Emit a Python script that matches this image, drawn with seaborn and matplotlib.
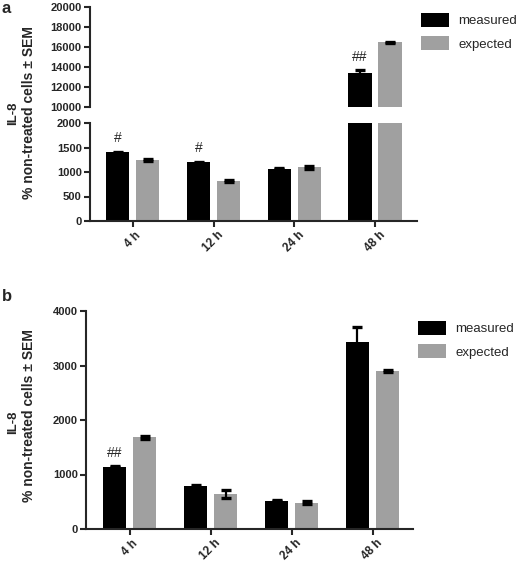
import matplotlib
matplotlib.use("Agg")
import matplotlib.pyplot as plt
import numpy as np
import pandas as pd
import seaborn as sns
from matplotlib.patches import Patch

# ---------------- data ----------------
times = ["4 h", "12 h", "24 h", "48 h"]
series = ["measured", "expected"]

a_measured = [1400, 1200, 1070, 13350]
a_measured_sem = [10, 10, 10, 300]
a_expected = [1240, 820, 1100, 16450]
a_expected_sem = [25, 25, 30, 80]
a_marks = ["#", "#", "", "##"]          # significance marks over "measured"

b_measured = [1140, 790, 520, 3430]
b_measured_sem = [10, 15, 10, 270]
b_expected = [1680, 640, 480, 2900]
b_expected_sem = [20, 70, 25, 15]
b_marks = ["##", "", "", ""]

ylabel_top = "IL-8"
ylabel_bottom = "% non-treated cells \u00b1 SEM"

colors = {"measured": "#000000", "expected": "#a0a0a0"}

# ---------------- style ----------------
sns.set_theme(style="ticks")
plt.rcParams["font.family"] = ["Liberation Sans", "DejaVu Sans"]
plt.rcParams["axes.linewidth"] = 1.5

W, H = 517, 561
fig = plt.figure(figsize=(W / 100, H / 100), dpi=100)


def fax(left, top, right, bottom):
    """axes from pixel box"""
    return fig.add_axes([left / W, 1 - bottom / H, (right - left) / W, (bottom - top) / H])


def make_df(m, e):
    return pd.DataFrame({
        "time": times * 2,
        "series": ["measured"] * len(times) + ["expected"] * len(times),
        "value": list(m) + list(e),
    })


def draw(ax, df, sems, marks, ylim, yticks, xlim):
    sns.barplot(data=df, x="time", y="value", hue="series", hue_order=series,
                palette=colors, width=0.744, gap=0.23, errorbar=None,
                saturation=1, linewidth=0, legend=False, ax=ax)
    for cont, sem in zip(ax.containers, sems):
        xs = [b.get_x() + b.get_width() / 2 for b in cont]
        hs = [b.get_height() for b in cont]
        ax.errorbar(xs, hs, yerr=sem, fmt="none", ecolor="black",
                    elinewidth=1.6, capsize=3.8, capthick=2.4, zorder=5)
    # marks above measured bars
    cont = ax.containers[0]
    for b, s, mk in zip(cont, sems[0], marks):
        top = b.get_height() + s
        if mk and ylim[0] <= top <= ylim[1]:
            ax.annotate(mk, xy=(b.get_x() + b.get_width() / 2, top),
                        xytext=(0, 7), textcoords="offset points",
                        ha="center", va="baseline", fontsize=10, zorder=6)
    ax.set_ylim(*ylim)
    ax.set_yticks(yticks)
    ax.set_xlim(*xlim)
    ax.set_xlabel("")
    ax.set_ylabel("")
    sns.despine(ax=ax)
    ax.tick_params(axis="both", width=1.5, length=4, labelsize=8, pad=2)
    ax.tick_params(axis="x", labelsize=8.5)
    for lab in ax.get_yticklabels() + ax.get_xticklabels():
        lab.set_fontweight("bold")
    for lab in ax.get_xticklabels():
        lab.set_rotation(45)
        lab.set_ha("center")


# ---------------- panel a (broken axis) ----------------
df_a = make_df(a_measured, a_expected)
sems_a = [a_measured_sem, a_expected_sem]
xlim_a = (-0.53, 3.52)

ax_a_top = fax(90, 7, 417, 107)
draw(ax_a_top, df_a, sems_a, a_marks, (10000, 20000),
     np.arange(10000, 20001, 2000), xlim_a)
ax_a_top.spines["bottom"].set_visible(False)
ax_a_top.tick_params(axis="x", bottom=False, labelbottom=False)

ax_a_bot = fax(90, 123, 417, 221)
draw(ax_a_bot, df_a, sems_a, a_marks, (0, 2000),
     np.arange(0, 2001, 500), xlim_a)

# ---------------- panel b ----------------
df_b = make_df(b_measured, b_expected)
sems_b = [b_measured_sem, b_expected_sem]
ax_b = fax(86, 311, 413, 529)
draw(ax_b, df_b, sems_b, b_marks, (0, 4000),
     np.arange(0, 4001, 1000), (-0.54, 3.5))

# ---------------- y labels, panel letters, legends ----------------
for yc, yc2 in ((113, 113), (422, 416)):
    fig.text(13 / W, 1 - yc / H, ylabel_top, rotation=90, ha="center",
             va="center", fontsize=9.5, fontweight="bold")
    fig.text(29 / W, 1 - yc2 / H, ylabel_bottom, rotation=90, ha="center",
             va="center", fontsize=10, fontweight="bold")

fig.text(2 / W, 1 - 1 / H, "a", ha="left", va="top", fontsize=12, fontweight="bold")
fig.text(2 / W, 1 - 289 / H, "b", ha="left", va="top", fontsize=12, fontweight="bold")

handles = [Patch(facecolor=colors[s], edgecolor="none", label=s) for s in series]
for lx, ty in ((421, 13), (418, 321)):
    fig.legend(handles=handles, loc="upper left",
               bbox_to_anchor=(lx / W, 1 - ty / H), frameon=False,
               fontsize=9.5, handlelength=2.1, handleheight=1.2,
               handletextpad=0.75, labelspacing=0.7, borderpad=0,
               borderaxespad=0)

fig.savefig("out.png", dpi=100)
